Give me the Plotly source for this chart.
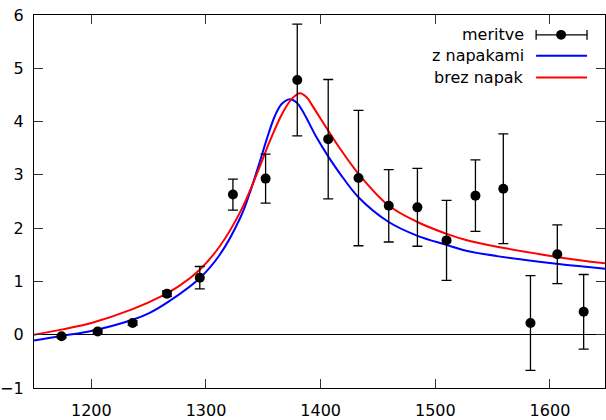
import plotly.graph_objects as go

# measurements
meas_x = [1174, 1205.5, 1236, 1266, 1294.6, 1323.5, 1352, 1379.6, 1406.6, 1433,
          1459.4, 1484.4, 1509.8, 1535, 1559.3, 1583, 1606.4, 1629.4]
meas_y = [-0.03, 0.06, 0.22, 0.77, 1.07, 2.63, 2.93, 4.78, 3.67, 2.94,
          2.42, 2.39, 1.77, 2.61, 2.74, 0.22, 1.51, 0.43]
meas_err = [0.03, 0.03, 0.04, 0.05, 0.21, 0.29, 0.46, 1.05, 1.12, 1.27,
            0.68, 0.73, 0.75, 0.67, 1.03, 0.89, 0.55, 0.70]

# fitted curve "z napakami" (blue)
blue_x = [1150, 1175, 1200, 1236, 1250, 1268, 1295, 1312, 1330, 1338, 1347, 1353, 1360,
          1366, 1373, 1379, 1385, 1396, 1408, 1417, 1433, 1459, 1484, 1509, 1530, 1606, 1648]
blue_y = [-0.11, -0.02, 0.07, 0.28, 0.40, 0.63, 1.07, 1.50, 2.20, 2.65, 3.25, 3.67, 4.10,
          4.33, 4.42, 4.36, 4.17, 3.72, 3.30, 3.02, 2.58, 2.12, 1.86, 1.69, 1.56, 1.33, 1.24]

# fitted curve "brez napak" (red)
red_x = [1150, 1175, 1200, 1236, 1260, 1277, 1295, 1312, 1330, 1345, 1356, 1367, 1375,
         1382, 1388, 1393, 1406, 1417, 1433, 1459, 1484, 1509, 1530, 1606, 1648]
red_y = [0.00, 0.10, 0.22, 0.48, 0.71, 0.92, 1.23, 1.66, 2.31, 3.05, 3.65, 4.17, 4.43,
         4.53, 4.45, 4.29, 3.85, 3.49, 3.02, 2.43, 2.12, 1.90, 1.76, 1.46, 1.34]

x_ticks = [1200, 1300, 1400, 1500, 1600]
y_ticks = [-1, 0, 1, 2, 3, 4, 5, 6]
legend_labels = ["meritve", "z napakami", "brez napak"]

FONT = "DejaVu Sans"

fig = go.Figure()
fig.add_trace(go.Scatter(x=blue_x, y=blue_y, mode="lines", line=dict(color="#0000ff", width=2, shape="spline"),
                         name=legend_labels[1], showlegend=False))
fig.add_trace(go.Scatter(x=red_x, y=red_y, mode="lines", line=dict(color="#ff0000", width=2, shape="spline"),
                         name=legend_labels[2], showlegend=False))
fig.add_trace(go.Scatter(x=meas_x, y=meas_y, mode="markers", name=legend_labels[0], showlegend=False,
                         marker=dict(color="black", size=10),
                         error_y=dict(type="data", array=meas_err, color="black", thickness=1.3, width=5)))

L, R, T, B = 34, 0, 15, 29
W, H = 606, 420
pw, ph = W - L - R, H - T - B

def px(xp):
    return (xp - L) / pw

def py(yp):
    return (H - B - yp) / ph

shapes = []
annotations = []
rows_y = [35, 56, 78]
for lab, yy in zip(legend_labels, rows_y):
    annotations.append(dict(x=px(527), y=py(yy), xref="paper", yref="paper", text=lab, showarrow=False,
                            xanchor="right", yanchor="middle", font=dict(family=FONT, size=16, color="black")))
# key samples
shapes.append(dict(type="line", xref="paper", yref="paper", x0=px(537), x1=px(588), y0=py(35), y1=py(35),
                   line=dict(color="black", width=1.3)))
for cx in (537, 588):
    shapes.append(dict(type="line", xref="paper", yref="paper", x0=px(cx), x1=px(cx), y0=py(30), y1=py(40),
                       line=dict(color="black", width=1.3)))
shapes.append(dict(type="circle", xref="paper", yref="paper", x0=px(557), x1=px(567), y0=py(30), y1=py(40),
                   fillcolor="black", line=dict(color="black", width=0)))
shapes.append(dict(type="line", xref="paper", yref="paper", x0=px(537), x1=px(588), y0=py(56), y1=py(56),
                   line=dict(color="#0000ff", width=2)))
shapes.append(dict(type="line", xref="paper", yref="paper", x0=px(537), x1=px(588), y0=py(78), y1=py(78),
                   line=dict(color="#ff0000", width=2)))

fig.update_layout(
    width=W, height=H, margin=dict(l=L, r=R, t=T, b=B),
    paper_bgcolor="white", plot_bgcolor="white",
    showlegend=False, shapes=shapes, annotations=annotations,
    font=dict(family=FONT, size=16, color="black"),
    xaxis=dict(range=[1150, 1648], tickvals=x_ticks, ticks="inside", ticklen=9, tickwidth=1.2,
               tickcolor="#333", showline=True, linecolor="black", linewidth=1.3, mirror="ticks",
               showgrid=False, zeroline=False, ticklabelstandoff=8),
    yaxis=dict(range=[-1, 6], tickvals=y_ticks, ticks="inside", ticklen=9, tickwidth=1.2,
               tickcolor="#333", showline=True, linecolor="black", linewidth=1.3, mirror="ticks",
               showgrid=False, zeroline=True, zerolinecolor="black", zerolinewidth=1,
               ticklabelstandoff=6),
)

fig.write_html("out.html")
